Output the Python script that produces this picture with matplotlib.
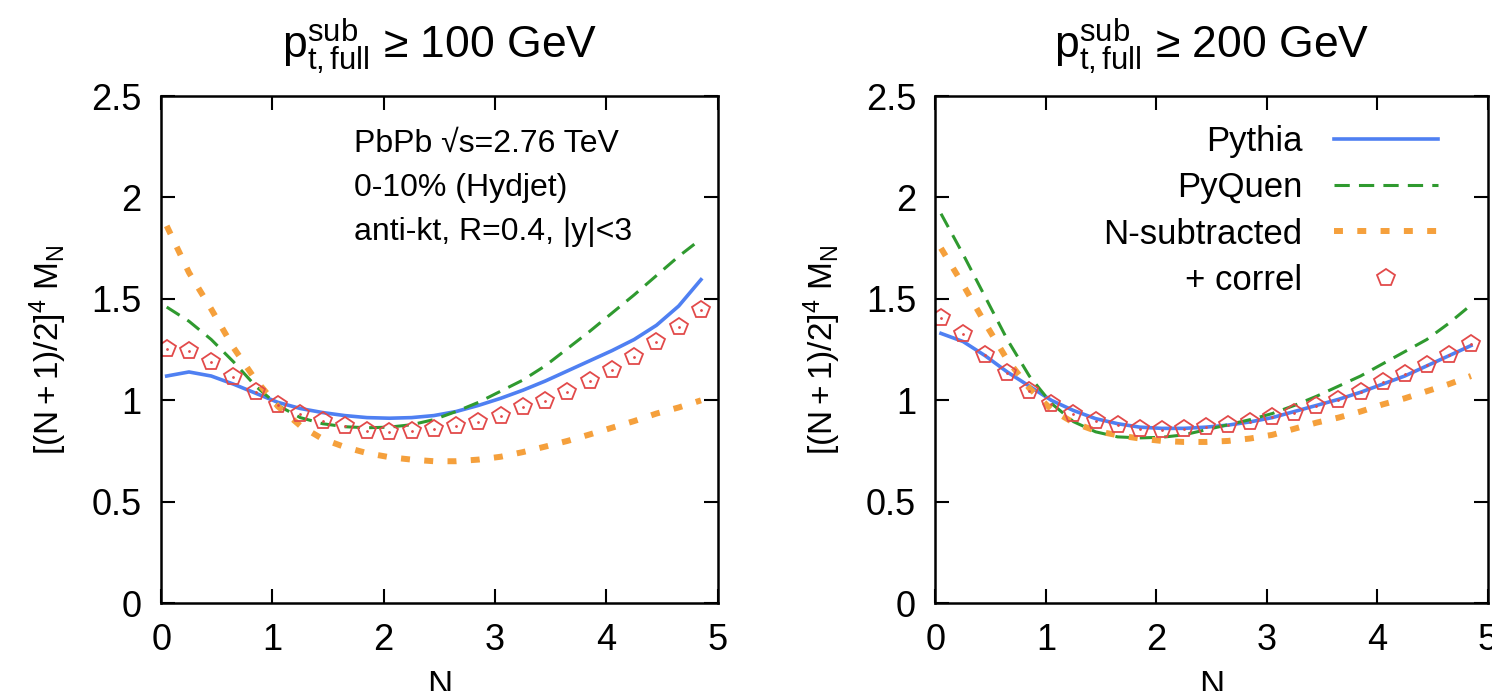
import matplotlib
matplotlib.use("Agg")
from matplotlib import pyplot as plt
import matplotlib.ticker as mtick

plt.rcParams['font.family'] = ['Liberation Sans', 'DejaVu Sans']
plt.rcParams['mathtext.fontset'] = 'custom'
plt.rcParams['mathtext.rm'] = 'Liberation Sans'
plt.rcParams['mathtext.it'] = 'Liberation Sans:italic'

# sample points in N (same for curves and markers)
n_vals = [0.05, 0.25, 0.45, 0.65, 0.85, 1.05, 1.25, 1.45, 1.65, 1.85, 2.05, 2.25, 2.45,
          2.65, 2.85, 3.05, 3.25, 3.45, 3.65, 3.85, 4.05, 4.25, 4.45, 4.65, 4.85]

# pt >= 100 GeV
pythia_100 = [1.12, 1.14, 1.12, 1.08, 1.035, 0.99, 0.96, 0.94, 0.925, 0.915, 0.912, 0.915, 0.925,
              0.945, 0.975, 1.01, 1.05, 1.095, 1.145, 1.195, 1.245, 1.30, 1.37, 1.465, 1.595]
pyquen_100 = [1.46, 1.39, 1.30, 1.19, 1.07, 0.975, 0.915, 0.885, 0.87, 0.865, 0.868, 0.88, 0.905,
              0.945, 0.99, 1.045, 1.10, 1.17, 1.255, 1.34, 1.43, 1.52, 1.615, 1.71, 1.795]
nsub_100 = [1.86, 1.63, 1.45, 1.26, 1.10, 0.97, 0.875, 0.81, 0.77, 0.74, 0.72, 0.708, 0.70,
            0.70, 0.708, 0.722, 0.745, 0.772, 0.80, 0.832, 0.865, 0.898, 0.935, 0.965, 1.0]
correl_100 = [1.252, 1.241, 1.187, 1.115, 1.042, 0.977, 0.933, 0.898, 0.872, 0.851, 0.846, 0.851, 0.859,
              0.872, 0.894, 0.922, 0.966, 0.996, 1.042, 1.096, 1.150, 1.213, 1.289, 1.361, 1.443]

# pt >= 200 GeV
pythia_200 = [1.33, 1.29, 1.22, 1.14, 1.07, 1.0, 0.95, 0.91, 0.885, 0.868, 0.862, 0.862, 0.868,
              0.878, 0.894, 0.915, 0.945, 0.975, 1.005, 1.04, 1.08, 1.12, 1.17, 1.22, 1.27]
pyquen_200 = [1.92, 1.72, 1.51, 1.30, 1.12, 0.985, 0.895, 0.845, 0.82, 0.815, 0.818, 0.83, 0.855,
              0.88, 0.905, 0.935, 0.975, 1.02, 1.07, 1.12, 1.18, 1.24, 1.30, 1.38, 1.47]
nsub_200 = [1.75, 1.57, 1.38, 1.20, 1.06, 0.955, 0.89, 0.85, 0.828, 0.812, 0.80, 0.795, 0.795,
            0.80, 0.812, 0.83, 0.86, 0.89, 0.915, 0.945, 0.98, 1.01, 1.045, 1.08, 1.12]
correl_200 = [1.404, 1.328, 1.226, 1.133, 1.046, 0.981, 0.933, 0.898, 0.877, 0.859, 0.855, 0.859, 0.868,
              0.877, 0.894, 0.916, 0.938, 0.970, 1.003, 1.042, 1.089, 1.128, 1.176, 1.226, 1.280]

titles = [r'$\mathregular{p^{sub}_{t,full}}$ ≥ 100 GeV', r'$\mathregular{p^{sub}_{t,full}}$ ≥ 200 GeV']
ylabel = r'$\mathregular{[(N+1)/2]^4\ M_N}$'
info_text = 'PbPb √s=2.76 TeV\n0-10% (Hydjet)\nanti-kt, R=0.4, |y|<3'

blue = '#4f80f2'
green = '#2f9a2f'
orange = '#f5a03c'
red = '#e24a4a'

fig = plt.figure(figsize=(14.92, 6.91), dpi=100)
ax1 = fig.add_axes([0.108, 0.127, 0.373, 0.734])
ax2 = fig.add_axes([0.627, 0.127, 0.370, 0.734])

panels = [(ax1, pythia_100, pyquen_100, nsub_100, correl_100, titles[0]),
          (ax2, pythia_200, pyquen_200, nsub_200, correl_200, titles[1])]

for ax, py, pq, ns, cor, title in panels:
    ax.plot(n_vals, py, color=blue, lw=2.6, label='Pythia')
    ax.plot(n_vals, pq, color=green, lw=2.2, ls=(0, (5, 3)), label='PyQuen')
    ax.plot(n_vals, ns, color=orange, lw=4.3, ls=(0, (1.5, 2.4)), label='N-subtracted')
    ax.plot(n_vals, cor, ls='none', marker='p', ms=13, mfc='none', mec=red, mew=1.3,
            label='+ correl')
    ax.plot(n_vals, cor, ls='none', marker='.', ms=2, color=red)

    ax.set_xlim(0, 5)
    ax.set_ylim(0, 2.5)
    ax.xaxis.set_major_locator(mtick.MultipleLocator(1))
    ax.yaxis.set_major_locator(mtick.MultipleLocator(0.5))
    ax.yaxis.set_major_formatter(mtick.FormatStrFormatter('%g'))
    ax.tick_params(direction='in', top=True, right=True, length=10, width=1.5,
                   labelsize=26, pad=14)
    for sp in ax.spines.values():
        sp.set_linewidth(1.8)
    ax.set_title(title, fontsize=32, pad=27)
    ax.set_ylabel(ylabel, fontsize=24, labelpad=16)
    ax.set_xlabel('N', fontsize=25, labelpad=8)

ax1.text(0.346, 0.935, info_text, transform=ax1.transAxes, fontsize=23,
         ha='left', va='top', linespacing=1.6)

leg = ax2.legend(loc='upper right', bbox_to_anchor=(0.935, 0.97), frameon=False,
                 fontsize=25, markerfirst=False, handlelength=3.0, handletextpad=0.9,
                 labelspacing=0.38, borderaxespad=0)
for col in leg._legend_handle_box.get_children():
    col.align = 'right'

fig.savefig('out.png', dpi=100)
